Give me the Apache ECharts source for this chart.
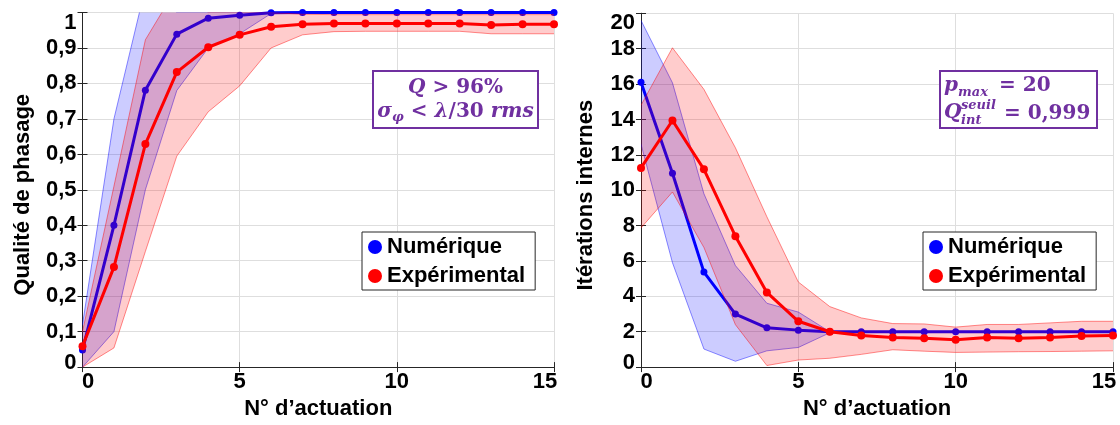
<!DOCTYPE html>
<html>
<head>
<meta charset="utf-8">
<script src="https://cdn.jsdelivr.net/npm/echarts@6/dist/echarts.min.js"></script>
<style>html,body{margin:0;padding:0;background:#fff;}#c{width:1120px;height:425px;}</style>
</head>
<body>
<div id="c"></div>
<script>
// ---- data ----
const actuations = [0,1,2,3,4,5,6,7,8,9,10,11,12,13,14,15];
// Left: Qualité de phasage
const numQ      = [0.048,0.40,0.781,0.939,0.984,0.992,0.999,1,1,1,1,1,1,1,1,1];
const numQLow   = [0,0.10,0.50,0.78,0.90,0.94,0.997,1,1,1,1,1,1,1,1,1];
const numQHigh  = [0.12,0.70,1.07,1,1,1,1,1,1,1,1,1,1,1,1,1];
const expQ      = [0.059,0.282,0.629,0.832,0.902,0.937,0.96,0.967,0.969,0.969,0.969,0.969,0.969,0.965,0.967,0.967];
const expQLow   = [0,0.054,0.326,0.595,0.72,0.793,0.90,0.937,0.946,0.947,0.947,0.947,0.947,0.94,0.94,0.94];
const expQHigh  = [0.10,0.51,0.923,1.07,1,1,1,0.995,0.994,0.994,0.994,0.994,0.994,0.994,0.994,0.994];
// Right: Itérations internes
const numIt     = [16.1,10.96,5.37,3.0,2.22,2.09,2.0,2,2,2,2,2,2,2,2,2];
const numItLow  = [12.6,5.9,1.02,0.33,0.92,1.11,1.94,2,2,2,2,2,2,2,2,2];
const numItHigh = [19.6,16.07,9.8,5.74,3.61,3.11,2.0,2,2,2,2,2,2,2,2,2];
const expIt     = [11.26,13.94,11.18,7.4,4.22,2.59,2.0,1.78,1.68,1.63,1.54,1.68,1.63,1.68,1.76,1.78];
const expItLow  = [7.87,9.9,6.76,2.4,0.09,0.4,0.5,0.72,0.98,0.9,0.83,0.85,0.87,0.88,0.9,0.92];
const expItHigh = [14.8,18.05,15.7,12.4,8.5,4.81,3.42,2.78,2.46,2.44,2.26,2.41,2.41,2.5,2.59,2.59];
const xTicks = [0,5,10,15];
const legendNames = ['Numérique','Expérimental'];

// ---- helpers ----
const pairs = arr => actuations.map((x,i)=>[x,arr[i]]);
const FONT = 'Liberation Sans, Arial, sans-serif';
const AX = '#262626';
const lbl = {fontFamily:FONT,fontWeight:'bold',fontSize:22,color:'#000'};

function band(gi, lo, hi, col, fill, z){
  return {type:'custom', xAxisIndex:gi*2, yAxisIndex:gi*2, clip:true, silent:true, z:z,
    data: actuations.map((x,i)=>[x, lo[i], hi[i]]),
    encode:{x:0, y:[1,2]},
    renderItem:function(params, api){
      if (params.dataIndexInside !== 0) return null;
      const n = params.dataInsideLength;
      const top = [], bot = [];
      for (let i=0;i<n;i++){
        top.push(api.coord([api.value(0,i), api.value(2,i)]));
        bot.push(api.coord([api.value(0,i), api.value(1,i)]));
      }
      return {type:'group', children:[
        {type:'polygon', shape:{points: top.concat(bot.slice().reverse())}, style:{fill:fill, stroke:null}},
        {type:'polyline', shape:{points: top}, style:{stroke:col, lineWidth:1, fill:null}},
        {type:'polyline', shape:{points: bot}, style:{stroke:col, lineWidth:1, fill:null}}
      ]};
    }};
}
function mainLine(gi, name, arr, color, size, z){
  return {type:'line', name:name, xAxisIndex:gi*2, yAxisIndex:gi*2, data:pairs(arr),
    symbol:'circle', symbolSize:size, showSymbol:true, itemStyle:{color:color},
    lineStyle:{width:3,color:color}, z:z};
}

function xAxes(gi){
  return [
    {gridIndex:gi, type:'value', min:0, max:15, interval:5, position:'bottom',
     name:'N° d’actuation', nameLocation:'middle', nameGap:29,
     nameTextStyle:{fontFamily:FONT,fontWeight:'bold',fontSize:22,color:'#000'},
     axisLine:{show:true,lineStyle:{color:AX,width:1}},
     axisTick:{show:true,inside:true,length:5,lineStyle:{color:AX}},
     splitLine:{show:true,lineStyle:{color:'#dedede',width:1}},
     axisLabel:Object.assign({margin:4, formatter:v=> v===0?'{l|0}':(v===15?'{r|15}':String(v)),
       rich:{l:Object.assign({padding:[0,0,0,11]},lbl), r:Object.assign({padding:[0,18,0,0]},lbl)}},lbl)},
    {gridIndex:gi, type:'value', min:0, max:15, interval:5, position:'top',
     axisLine:{show:true,lineStyle:{color:AX,width:1}},
     axisTick:{show:true,inside:true,length:5,lineStyle:{color:AX}},
     splitLine:{show:false}, axisLabel:{show:false}}
  ];
}
function yAxes(gi, max, interval, name, gap, fmt){
  return [
    {gridIndex:gi, type:'value', min:0, max:max, interval:interval, position:'left',
     name:name, nameLocation:'middle', nameGap:gap,
     nameTextStyle:{fontFamily:FONT,fontWeight:'bold',fontSize:22,color:'#000',padding:[0,10,0,0]},
     axisLine:{show:true,lineStyle:{color:AX,width:1}},
     axisTick:{show:true,inside:true,length:5,lineStyle:{color:AX}},
     splitLine:{show:true,lineStyle:{color:'#dedede',width:1}},
     axisLabel:Object.assign({margin:6, formatter:v=>{
        const s = fmt(v);
        if (Math.abs(v-max)<1e-9) return '{t|'+s+'}';
        if (Math.abs(v)<1e-9) return '{b|'+s+'}';
        return s;},
       rich:{t:Object.assign({padding:[20,0,0,0]},lbl), b:Object.assign({padding:[0,0,8,0]},lbl)}},lbl)},
    {gridIndex:gi, type:'value', min:0, max:max, interval:interval, position:'right',
     axisLine:{show:true,lineStyle:{color:AX,width:1}},
     axisTick:{show:true,inside:true,length:5,lineStyle:{color:AX}},
     splitLine:{show:false}, axisLabel:{show:false}}
  ];
}
const fmtQ = v => { if (Math.abs(v)<1e-9) return '0'; if (Math.abs(v-1)<1e-9) return '1'; return v.toFixed(1).replace('.',','); };
const fmtI = v => String(Math.round(v));

function legend(left){
  return {left:left, top:232, orient:'vertical', icon:'circle', itemWidth:14, itemHeight:14, itemGap:7,
    padding:[4,10,3,6], borderColor:AX, borderWidth:1, backgroundColor:'#fff', selectedMode:false, z:20,
    textStyle:{fontFamily:FONT,fontWeight:'bold',fontSize:22,color:'#000'}, data:legendNames};
}

const PURPLE = '#7030A0';
const MF = 'DejaVu Serif, Liberation Serif, serif';
const it = {fontFamily:MF,fontStyle:'italic',fontWeight:'bold',fontSize:20,fill:PURPLE,color:PURPLE};
const up = {fontFamily:MF,fontStyle:'normal',fontWeight:'bold',fontSize:20,fill:PURPLE,color:PURPLE};
const sm = {fontFamily:MF,fontStyle:'italic',fontWeight:'bold',fontSize:13,fill:PURPLE,color:PURPLE};

function T(x,y,text,st,align){
  return {type:'text', x:x, y:y, z:100, style:Object.assign({text:text, align:align||'left', verticalAlign:'middle'}, st)};
}

const option = {
  animation:false,
  backgroundColor:'#fff',
  grid:[
    {left:82.5, right:1120-554, top:12.5, bottom:425-372.5, containLabel:false},
    {left:641, right:1120-1113, top:13.3, bottom:425-373.3, containLabel:false}
  ],
  xAxis:[...xAxes(0), ...xAxes(1)],
  yAxis:[...yAxes(0,1,0.1,'Qualité de phasage',49,fmtQ), ...yAxes(1,20,2,'Itérations internes',44,fmtI)],
  legend:[legend(362), legend(923)],
  series:[
    band(0,numQLow,numQHigh,'rgba(0,0,255,0.45)','rgba(0,0,255,0.2)',2),
    mainLine(0,'Numérique',numQ,'#0000ff',7,3),
    band(0,expQLow,expQHigh,'rgba(255,0,0,0.45)','rgba(255,0,0,0.2)',4),
    mainLine(0,'Expérimental',expQ,'#ff0000',8,5),
    band(1,numItLow,numItHigh,'rgba(0,0,255,0.45)','rgba(0,0,255,0.2)',2),
    mainLine(1,'Numérique',numIt,'#0000ff',7,3),
    band(1,expItLow,expItHigh,'rgba(255,0,0,0.45)','rgba(255,0,0,0.2)',4),
    mainLine(1,'Expérimental',expIt,'#ff0000',8,5)
  ],
  graphic:[
    {type:'rect', z:99, shape:{x:373,y:71,width:165,height:57}, style:{fill:'#fff',stroke:PURPLE,lineWidth:2}},
    {type:'text', z:100, x:455.5, y:88, style:{text:'{i|Q}{n| > 96%}', align:'center', verticalAlign:'middle',
      rich:{i:it, n:up}}},
    {type:'text', z:100, x:455.5, y:112, style:{text:'{i|σ}{s|φ}{n| < }{i|λ}{n|/30 }{i|rms}', align:'center', verticalAlign:'middle',
      rich:{i:Object.assign({lineHeight:24,verticalAlign:'middle'},it), n:Object.assign({lineHeight:24},up), s:Object.assign({lineHeight:14,verticalAlign:'bottom'},sm)}}},
    {type:'rect', z:99, shape:{x:940,y:71,width:157,height:57}, style:{fill:'#fff',stroke:PURPLE,lineWidth:2}},
    T(944,86,'p',it), T(958,93,'max',sm), T(999,86,'= 20',up),
    T(944,113,'Q',it), T(961,106,'seuil',sm), T(961,121,'int',sm), T(1004,114,'= 0,999',up)
  ]
};
const chart = echarts.init(document.getElementById('c'), null, {renderer:'canvas'});
chart.setOption(option);
</script>
</body>
</html>
